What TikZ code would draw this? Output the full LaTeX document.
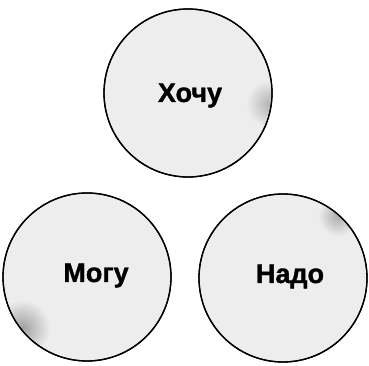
\documentclass[tikz,border=0pt]{standalone}
\usepackage{fontspec}
\setmainfont{Liberation Sans}
\newfontfamily\heavyfont[FakeBold=1.2]{Liberation Sans Bold}
\begin{document}
\begin{tikzpicture}[x=1pt,y=1pt,
  circ/.style={circle,draw=black,line width=1.3pt,fill=gray!14,minimum size=168pt,inner sep=0pt},
  word/.style={font=\heavyfont\fontsize{27}{31}\selectfont,anchor=base,inner sep=0pt}]
\useasboundingbox (0,0) rectangle (369,366);
\node[circ] (want) at (188,273) {};
\node[circ] (can) at (87,89) {};
\node[circ] (must) at (283,88) {};
% darker grainy patches
\begin{scope}
  \clip (188,273) circle (83pt);
  \shade[inner color=gray!60,outer color=gray!14] (270,262) circle (24pt);
\end{scope}
\begin{scope}
  \clip (87,89) circle (83pt);
  \shade[inner color=gray!75,outer color=gray!14] (22,38) circle (28pt);
\end{scope}
\begin{scope}
  \clip (283,88) circle (83pt);
  \shade[inner color=gray!65,outer color=gray!14] (338,150) circle (20pt);
\end{scope}
\draw[line width=1.3pt] (want) circle (84pt);
\draw[line width=1.3pt] (can) circle (84pt);
\draw[line width=1.3pt] (must) circle (84pt);
\node[word] (t1) at (190,264) {Хочу};
\node[word] (t2) at (96,84) {Могу};
\node[word] (t3) at (290,83) {Надо};
\end{tikzpicture}
\end{document}
